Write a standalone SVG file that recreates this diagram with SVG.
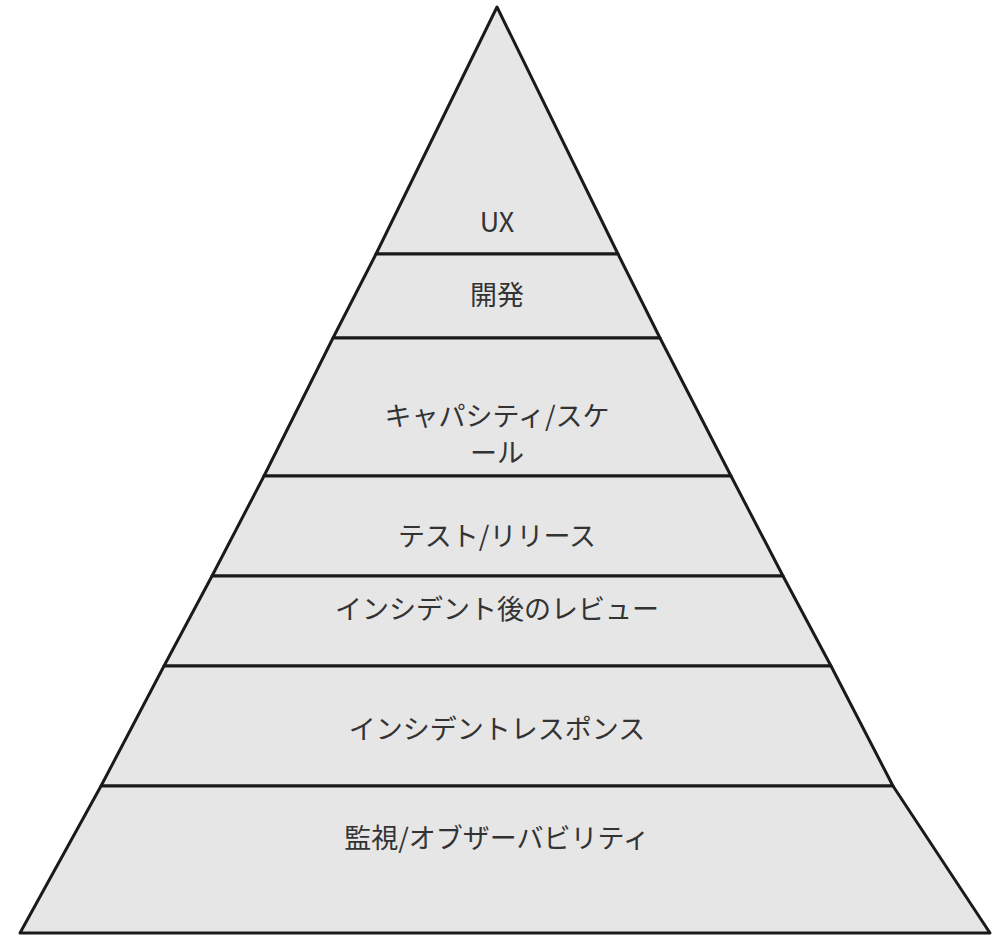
<svg xmlns="http://www.w3.org/2000/svg" width="1007" height="942" viewBox="0 0 1007 942">
<style>
.l{fill:#e6e6e6;stroke:#1a1a1a;stroke-width:3;stroke-linejoin:round}
.t{font-family:"Noto Sans CJK JP","Noto Sans",sans-serif;font-size:27px;fill:#333;text-anchor:middle;dominant-baseline:central}
</style>
<rect width="1007" height="942" fill="#fff"/>
<g id="layer1"><polygon class="l" points="497,7 618,254 376,254"/><text class="t" x="497" y="220">UX</text></g>
<g id="layer2"><polygon class="l" points="376,254 618,254 660,338 333,338"/><text class="t" x="497" y="293">開発</text></g>
<g id="layer3"><polygon class="l" points="333,338 660,338 731,476 264,476"/><text class="t" x="497" y="414">キャパシティ/スケ</text><text class="t" x="497" y="451">ール</text></g>
<g id="layer4"><polygon class="l" points="264,476 731,476 783,576 212,576"/><text class="t" x="497" y="534">テスト/リリース</text></g>
<g id="layer5"><polygon class="l" points="212,576 783,576 831,666 164,666"/><text class="t" x="497" y="607">インシデント後のレビュー</text></g>
<g id="layer6"><polygon class="l" points="164,666 831,666 893,786 101,786"/><text class="t" x="497" y="727">インシデントレスポンス</text></g>
<g id="layer7"><polygon class="l" points="101,786 893,786 990,933 20,933"/><text class="t" x="497" y="836">監視/オブザーバビリティ</text></g>
<g id="connectors"/>
</svg>
